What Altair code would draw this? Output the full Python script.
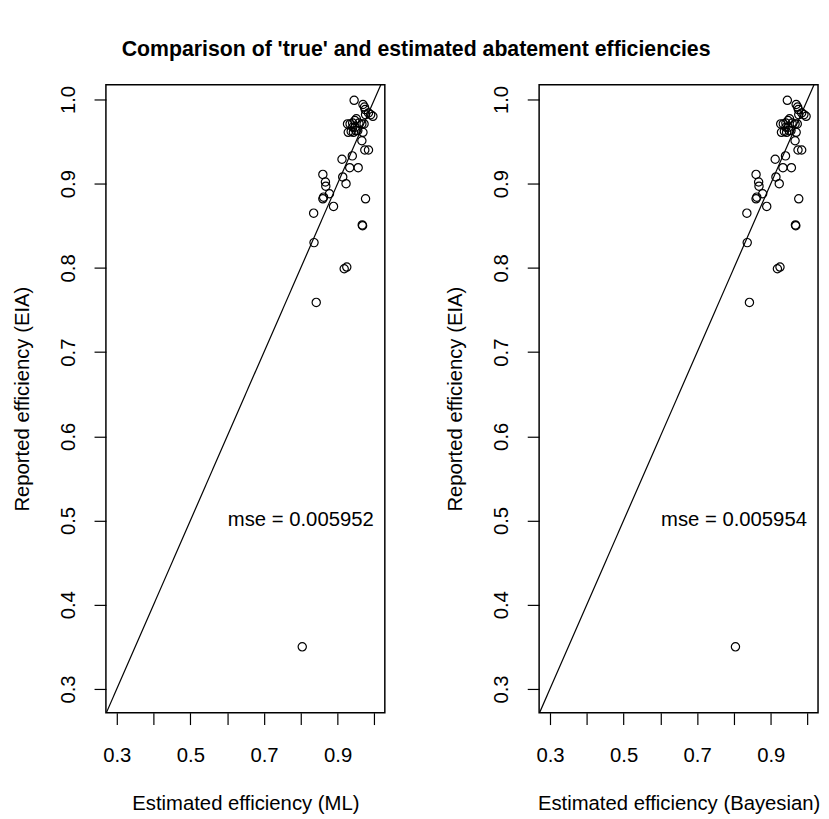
import altair as alt
import pandas as pd

# 'true' (reported, EIA) efficiencies
eia = [0.999, 0.994, 0.991, 0.988, 0.982, 0.984, 0.982, 0.980,
       0.971, 0.971, 0.972, 0.975, 0.977, 0.972, 0.971, 0.971,
       0.961, 0.962, 0.961, 0.963, 0.963, 0.961, 0.967, 0.967,
       0.951, 0.940, 0.940, 0.929, 0.933, 0.919, 0.919,
       0.911, 0.902, 0.897, 0.908, 0.900, 0.888, 0.882, 0.884,
       0.882, 0.873, 0.865, 0.851, 0.850, 0.830, 0.799, 0.801,
       0.759, 0.350]

# ML estimates
ml_est = [0.945, 0.969, 0.973, 0.975, 0.976, 0.984, 0.990, 0.996,
          0.927, 0.934, 0.941, 0.947, 0.951, 0.958, 0.966, 0.972,
          0.929, 0.937, 0.943, 0.950, 0.955, 0.969, 0.941, 0.948,
          0.966, 0.974, 0.984, 0.912, 0.940, 0.933, 0.956,
          0.860, 0.867, 0.868, 0.914, 0.923, 0.878, 0.860, 0.862,
          0.976, 0.889, 0.835, 0.967, 0.968, 0.836, 0.918, 0.925,
          0.842, 0.804]

# Bayesian estimates
bayes_est = [0.945, 0.969, 0.973, 0.975, 0.976, 0.984, 0.990, 0.996,
             0.927, 0.934, 0.941, 0.947, 0.951, 0.958, 0.966, 0.972,
             0.929, 0.937, 0.943, 0.950, 0.955, 0.969, 0.941, 0.948,
             0.966, 0.974, 0.984, 0.912, 0.940, 0.933, 0.956,
             0.860, 0.867, 0.868, 0.914, 0.923, 0.878, 0.860, 0.862,
             0.976, 0.889, 0.835, 0.967, 0.968, 0.836, 0.918, 0.925,
             0.842, 0.804]

mse_labels = ["mse = 0.005952", "mse = 0.005954"]
x_titles = ["Estimated efficiency (ML)", "Estimated efficiency (Bayesian)"]
y_title = "Reported efficiency (EIA)"
main_title = "Comparison of 'true' and estimated abatement efficiencies"

tick_values = [0.3, 0.4, 0.5, 0.6, 0.7, 0.8, 0.9, 1.0]
x_shown = ["0.3", "0.5", "0.7", "0.9"]
identity_line = [0.2, 1.1]
mse_pos = [0.8, 0.5]

XDOM = [0.2705, 1.0284]
YDOM = [0.2718, 1.0176]
FONT = "Liberation Sans"
FS = 20.5


def panel(xvals, xtitle, mse):
    df = pd.DataFrame({"x": xvals, "y": eia})
    xs = alt.Scale(domain=XDOM, nice=False, zero=False)
    ys = alt.Scale(domain=YDOM, nice=False, zero=False)
    xax = alt.Axis(values=tick_values, format=".1f",
                   labelExpr="indexof(" + str(x_shown) + ", datum.label) >= 0 ? datum.label : ''",
                   tickSize=12, labelPadding=21.5, titlePadding=27.5, grid=False,
                   domain=False, labelFontSize=FS, titleFontSize=FS,
                   titleFontWeight="normal", labelFont=FONT, titleFont=FONT,
                   labelColor="black", titleColor="black", tickColor="black",
                   tickWidth=1.2, labelFlush=False, labelOverlap=False)
    yax = alt.Axis(values=tick_values, format=".1f", tickSize=12, labelPadding=15.5,
                   titlePadding=27, grid=False, domain=False, labelAngle=270,
                   labelAlign="center", labelBaseline="bottom",
                   labelFontSize=FS, titleFontSize=FS, titleFontWeight="normal",
                   labelFont=FONT, titleFont=FONT, labelColor="black",
                   titleColor="black", tickColor="black", tickWidth=1.2,
                   labelFlush=False, labelOverlap=False)
    pts = alt.Chart(df).mark_point(shape="circle", filled=False, color="black",
                                   size=70, strokeWidth=1.2, opacity=1).encode(
        x=alt.X("x:Q", scale=xs, axis=xax, title=xtitle),
        y=alt.Y("y:Q", scale=ys, axis=yax, title=y_title),
    )
    ldf = pd.DataFrame({"x": identity_line, "y": identity_line})
    line = alt.Chart(ldf).mark_line(color="black", strokeWidth=1.2, clip=True).encode(
        x=alt.X("x:Q", scale=xs), y=alt.Y("y:Q", scale=ys))
    tdf = pd.DataFrame({"x": [mse_pos[0]], "y": [mse_pos[1]], "t": [mse]})
    txt = alt.Chart(tdf).mark_text(fontSize=FS, font=FONT, align="center",
                                   baseline="middle", color="black").encode(
        x=alt.X("x:Q", scale=xs), y=alt.Y("y:Q", scale=ys), text="t:N")
    return alt.layer(line, pts, txt).properties(width=282, height=635)


left = panel(ml_est, x_titles[0], mse_labels[0])
right = panel(bayes_est, x_titles[1], mse_labels[1])

chart = alt.hconcat(left, right, spacing=59).properties(
    title=alt.TitleParams(main_title, font=FONT, fontSize=21.5, fontWeight="bold",
                          anchor="middle", color="black", offset=24),
    padding={"left": 3, "top": 26, "right": 0, "bottom": 0},
).configure(background="white").configure_view(stroke="black", strokeWidth=1.5,
                                                 strokeOpacity=1)

chart.save("out.html", embed_options={"renderer": "svg", "actions": False})
